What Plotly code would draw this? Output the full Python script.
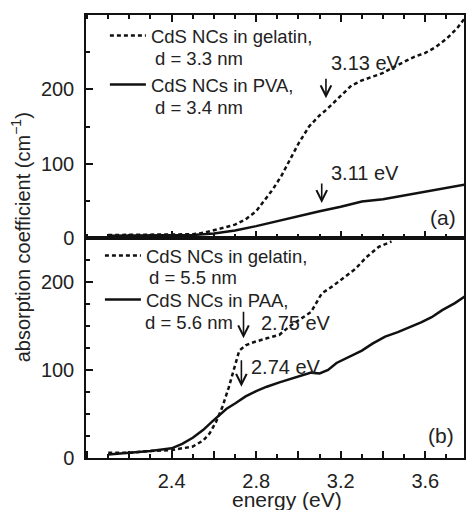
import plotly.graph_objects as go

# ---------------- data ----------------
# panel (a)
energy_a_gel = [2.10, 2.20, 2.30, 2.40, 2.50, 2.55, 2.60, 2.65, 2.70, 2.75, 2.80, 2.85, 2.88,
                2.92, 2.96, 3.00, 3.05, 3.10, 3.13, 3.20, 3.25, 3.30, 3.35, 3.40, 3.45, 3.50,
                3.55, 3.60, 3.65, 3.70, 3.75, 3.79]
abs_a_gel = [4, 4, 4, 4, 5, 7, 10, 14, 18, 25, 36, 55, 66,
             84, 105, 127, 150, 165, 172, 192, 205, 212, 217, 222, 230, 237,
             244, 249, 257, 268, 282, 297]

energy_a_pva = [2.10, 2.30, 2.50, 2.60, 2.70, 2.80, 2.90, 3.00, 3.10, 3.20, 3.30, 3.40,
                3.50, 3.60, 3.70, 3.79]
abs_a_pva = [3, 3, 4, 6, 10, 16, 23, 30, 36, 42, 49, 52, 57, 62, 67, 72]

# panel (b)
energy_b_gel = [2.10, 2.20, 2.30, 2.40, 2.45, 2.50, 2.55, 2.58, 2.61, 2.64, 2.67, 2.70, 2.72,
                2.75, 2.78, 2.85, 2.91, 2.96, 3.02, 3.06, 3.11, 3.16, 3.22, 3.27, 3.32, 3.38,
                3.44]
abs_b_gel = [6, 6, 8, 9, 11, 13, 20, 28, 41, 58, 80, 105, 122,
             128, 131, 136, 140, 150, 160, 166, 187, 195, 206, 215, 228, 240,
             246]

energy_b_paa = [2.10, 2.20, 2.30, 2.40, 2.45, 2.50, 2.55, 2.59, 2.63, 2.66, 2.70, 2.75, 2.80,
                2.85, 2.91, 2.99, 3.06, 3.10, 3.14, 3.18, 3.24, 3.30, 3.35, 3.41, 3.47, 3.53,
                3.58, 3.63, 3.68, 3.74, 3.79]
abs_b_paa = [4, 6, 8, 11, 16, 23, 32, 41, 50, 56, 62, 70, 76,
             81, 86, 92, 97, 96, 100, 108, 115, 122, 130, 138, 143, 149,
             154, 160, 168, 176, 184]

names_a = ["CdS NCs in gelatin,", "CdS NCs in PVA,"]
sizes_a = ["d = 3.3 nm", "d = 3.4 nm"]
names_b = ["CdS NCs in gelatin,", "CdS NCs in PAA,"]
sizes_b = ["d = 5.5 nm", "d = 5.6 nm"]

x_major = [2.0, 2.2, 2.4, 2.6, 2.8, 3.0, 3.2, 3.4, 3.6]
x_labels = ["", "", "2.4", "", "2.8", "", "3.2", "", "3.6"]
y_ticks = [0, 100, 200]

# peak markers: (energy, label, arrow tip value, label x, label y)
peaks_a = [(3.13, "3.13 eV", 188, 3.143, 236), (3.11, "3.11 eV", 47, 3.143, 87)]
peaks_b = [(2.74, "2.75 eV", 136, 2.814, 153), (2.73, "2.74 eV", 81, 2.767, 103)]

# ---------------- figure ----------------
FONT = "Liberation Sans, Arial, sans-serif"
INK = "#111111"
TXT = "#222222"
dash_style = dict(color=INK, width=2.5, dash="4px,3px")
solid_style = dict(color=INK, width=2.5)

fig = go.Figure()
fig.add_trace(go.Scatter(x=energy_a_gel, y=abs_a_gel, xaxis="x2", yaxis="y2", mode="lines",
                         line=dash_style, name=names_a[0], legend="legend", legendgroup="a1"))
fig.add_trace(go.Scatter(x=energy_a_pva, y=abs_a_pva, xaxis="x2", yaxis="y2", mode="lines",
                         line=solid_style, name=names_a[1], legend="legend", legendgroup="a2"))
fig.add_trace(go.Scatter(x=energy_b_gel, y=abs_b_gel, xaxis="x", yaxis="y", mode="lines",
                         line=dash_style, name=names_b[0], legend="legend2", legendgroup="b1"))
fig.add_trace(go.Scatter(x=energy_b_paa, y=abs_b_paa, xaxis="x", yaxis="y", mode="lines",
                         line=solid_style, name=names_b[1], legend="legend2", legendgroup="b2"))

split = 220 / 443
xrange = [1.995, 3.783]

common_x = dict(range=xrange, showgrid=False, zeroline=False, showline=True, linecolor=INK,
                linewidth=1.5, ticks="inside", ticklen=7, tickwidth=1.5, tickcolor=INK,
                tickmode="array", tickvals=x_major, ticktext=x_labels,
                minor=dict(dtick=0.1, tick0=2.0, ticks="inside", ticklen=4, tickwidth=1.5,
                           tickcolor=INK, showgrid=False),
                tickfont=dict(family=FONT, size=20, color=TXT))
common_y = dict(showgrid=False, zeroline=False, showline=True, linecolor=INK, linewidth=1.5,
                mirror=True, ticks="inside", ticklen=7, tickwidth=1.5, tickcolor=INK,
                tickmode="array", tickvals=y_ticks, ticklabelstandoff=6,
                tickfont=dict(family=FONT, size=20, color=TXT))

legend_common = dict(xanchor="left", yanchor="top", bgcolor="rgba(0,0,0,0)",
                     font=dict(family=FONT, size=18.5, color=TXT), valign="middle",
                     traceorder="grouped", itemwidth=36)

fig.update_layout(
    width=468, height=510,
    margin=dict(l=86, r=2, t=15, b=52),
    paper_bgcolor="white", plot_bgcolor="white",
    font=dict(family=FONT, color=INK),
    xaxis=dict(domain=[0, 1], anchor="y", mirror=True, ticklabelstandoff=4, **common_x),
    xaxis2=dict(domain=[0, 1], anchor="y2", matches="x", showticklabels=False,
                mirror="allticks", **common_x),
    yaxis=dict(domain=[0, split], range=[0, 250],
               minor=dict(dtick=25, ticks="inside", ticklen=4, tickwidth=1.5, tickcolor=INK),
               **common_y),
    yaxis2=dict(domain=[split, 1], range=[0, 300],
                minor=dict(dtick=50, ticks="inside", ticklen=4, tickwidth=1.5, tickcolor=INK),
                **common_y),
    legend=dict(x=(105 - 86) / 380, y=1 - (17 - 15) / 443, tracegroupgap=22, **legend_common),
    legend2=dict(x=(100 - 86) / 380, y=1 - (237 - 15) / 443, tracegroupgap=17, **legend_common),
    showlegend=True,
)

annotations = []
# second lines of the legend entries
for (txt, px, py) in [(sizes_a[0], 153, 58), (sizes_a[1], 153, 107),
                      (sizes_b[0], 147, 277), (sizes_b[1], 143, 322)]:
    annotations.append(dict(x=(px - 86) / 380, y=1 - (py - 15) / 443, xref="paper", yref="paper",
                            text=txt, showarrow=False, xanchor="left", yanchor="middle",
                            font=dict(family=FONT, size=18.5, color=TXT)))

for (e, label, tip, lx, ly) in peaks_a:
    annotations.append(dict(x=e, y=tip, xref="x2", yref="y2", text="", showarrow=True,
                            ax=0, ay=-21, arrowhead=5, arrowsize=1.3, arrowwidth=1.6,
                            arrowcolor=INK, standoff=0))
    annotations.append(dict(x=lx, y=ly, xref="x2", yref="y2", text=label, showarrow=False,
                            xanchor="left", yanchor="middle",
                            font=dict(family=FONT, size=20, color=TXT)))
for (e, label, tip, lx, ly) in peaks_b:
    annotations.append(dict(x=e, y=tip, xref="x", yref="y", text="", showarrow=True,
                            ax=0, ay=-28, arrowhead=5, arrowsize=1.3, arrowwidth=1.6,
                            arrowcolor=INK, standoff=0))
    annotations.append(dict(x=lx, y=ly, xref="x", yref="y", text=label, showarrow=False,
                            xanchor="left", yanchor="middle",
                            font=dict(family=FONT, size=20, color=TXT)))

annotations.append(dict(x=3.685, y=28, xref="x2", yref="y2", text="(a)", showarrow=False,
                        xanchor="center", yanchor="middle",
                        font=dict(family=FONT, size=21, color=TXT)))
annotations.append(dict(x=3.675, y=26, xref="x", yref="y", text="(b)", showarrow=False,
                        xanchor="center", yanchor="middle",
                        font=dict(family=FONT, size=21, color=TXT)))
annotations.append(dict(x=(288 - 86) / 380, y=-(499 - 458) / 443, xref="paper", yref="paper",
                        text="energy (eV)", showarrow=False, xanchor="center", yanchor="middle",
                        font=dict(family=FONT, size=21, color=TXT)))
annotations.append(dict(x=(20 - 86) / 380, y=1 - (237 - 15) / 443, xref="paper", yref="paper",
                        text="absorption coefficient (cm<sup>\u22121</sup>)", textangle=-90,
                        showarrow=False, xanchor="center", yanchor="middle",
                        font=dict(family=FONT, size=20, color=TXT)))
fig.update_layout(annotations=annotations)

fig.write_html("out.html", config={"displayModeBar": False},
               post_script="document.body.style.margin='0';document.body.style.overflow='hidden';")
